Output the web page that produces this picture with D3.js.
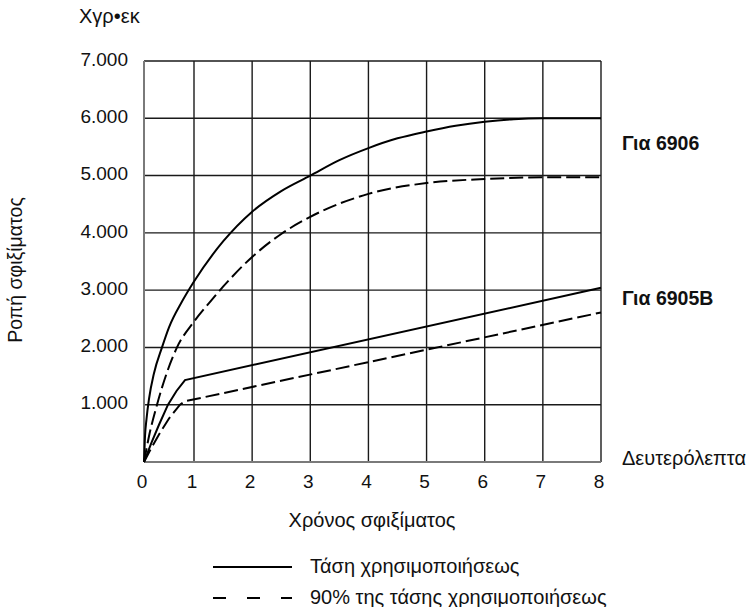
<!DOCTYPE html>
<html>
<head>
<meta charset="utf-8">
<script src="https://cdn.jsdelivr.net/npm/d3@7"></script>
<style>
  body { margin: 0; background: #fff; }
  text { font-family: "Liberation Sans", Arial, sans-serif; fill: #111; }
</style>
</head>
<body>
<svg width="752" height="607"></svg>
<script>
// tightening torque vs time, two tools, full and 90% voltage

// x axis ticks (seconds) and y axis ticks (torque)
const xTicks = [0, 1, 2, 3, 4, 5, 6, 7, 8];
const yTicks = [0, 1000, 2000, 3000, 4000, 5000, 6000, 7000];
const yTickLabels = ['', '1.000', '2.000', '3.000', '4.000', '5.000', '6.000', '7.000'];

// 6906 at full voltage
const time6906 = [0, 0.02, 0.05, 0.1, 0.2, 0.36, 0.5, 0.76, 1, 1.5, 2, 2.5, 3, 3.5, 4, 4.5, 5, 5.5, 6, 6.5, 7, 8];
const torque6906 = [0, 450, 750, 1100, 1550, 2000, 2350, 2800, 3150, 3850, 4370, 4730, 5000, 5270, 5480, 5650, 5770, 5870, 5940, 5985, 6000, 6000];
// 6906 at 90% voltage
const time6906low = [0, 0.1, 0.26, 0.66, 1, 1.28, 1.5, 2, 2.5, 3, 4, 5, 6, 7, 8];
const torque6906low = [0, 450, 1000, 2000, 2450, 2800, 3060, 3580, 3980, 4280, 4680, 4870, 4940, 4970, 4970];
// 6905B at full voltage
const time6905 = [0, 0.15, 0.3, 0.48, 0.65, 0.82, 8];
const torque6905 = [0, 340, 650, 1000, 1240, 1430, 3040];
// 6905B at 90% voltage
const time6905low = [0, 0.15, 0.3, 0.5, 0.72, 0.82, 8];
const torque6905low = [0, 250, 480, 760, 1000, 1060, 2610];

const legendLabels = ['Τάση χρησιμοποιήσεως', '90% της τάσης χρησιμοποιήσεως'];

const svg = d3.select('svg');

// the first second is drawn a little narrower than the rest
const x = d3.scaleLinear().domain([0, 1, 8]).range([144, 194, 601]);
const y = d3.scaleLinear().domain([0, 7000]).range([462, 61]);

const grid = svg.append('g');

// vertical grid lines
grid.selectAll('.vline')
  .data(xTicks.slice(1))
  .enter()
  .append('line')
  .attr('x1', d => x(d)).attr('x2', d => x(d))
  .attr('y1', y(0)).attr('y2', y(7000))
  .attr('stroke', '#1a1a1a')
  .attr('stroke-width', 1.4);

// horizontal grid lines
grid.selectAll('.hline')
  .data(yTicks.slice(1))
  .enter()
  .append('line')
  .attr('x1', x(0)).attr('x2', x(8))
  .attr('y1', d => y(d)).attr('y2', d => y(d))
  .attr('stroke', '#1a1a1a')
  .attr('stroke-width', 1.4);

// gray axis lines left and bottom
grid.append('line')
  .attr('x1', x(0)).attr('x2', x(8))
  .attr('y1', y(0)).attr('y2', y(0))
  .attr('stroke', '#7a7a7a').attr('stroke-width', 2);
grid.append('line')
  .attr('x1', x(0)).attr('x2', x(0))
  .attr('y1', y(0)).attr('y2', y(7000))
  .attr('stroke', '#7a7a7a').attr('stroke-width', 2);

// tick labels
svg.append('g').selectAll('text')
  .data(yTicks.slice(1))
  .enter()
  .append('text')
  .attr('x', 128)
  .attr('y', d => y(d) - 2)
  .attr('dy', '0.35em')
  .attr('text-anchor', 'end')
  .style('font-size', '19px')
  .text((d, i) => yTickLabels[i + 1]);

svg.append('g').selectAll('text')
  .data(xTicks)
  .enter()
  .append('text')
  .attr('x', d => x(d) - 2)
  .attr('y', 488)
  .attr('text-anchor', 'middle')
  .style('font-size', '19px')
  .text(d => d);

// curves
const smooth = d3.line()
  .x(d => x(d[0])).y(d => y(d[1]))
  .curve(d3.curveMonotoneX);
const straight = d3.line()
  .x(d => x(d[0])).y(d => y(d[1]));

const series = [
  { t: time6906, v: torque6906, line: smooth, dash: null },
  { t: time6906low, v: torque6906low, line: smooth, dash: '14,5' },
  { t: time6905, v: torque6905, line: straight, dash: null },
  { t: time6905low, v: torque6905low, line: straight, dash: '14,5' }
];

svg.append('g').selectAll('path')
  .data(series)
  .enter()
  .append('path')
  .attr('d', s => s.line(s.t.map((t, i) => [t, s.v[i]])))
  .attr('fill', 'none')
  .attr('stroke', '#000')
  .attr('stroke-width', 2)
  .attr('stroke-dasharray', s => s.dash);

// labels around the plot
svg.append('text').attr('x', 79).attr('y', 23)
  .style('font-size', '20px').text('Χγρ•εκ');
svg.append('text').attr('transform', 'translate(22,270) rotate(-90)')
  .attr('text-anchor', 'middle')
  .style('font-size', '19.5px').text('Ροπή σφιξίματος');
svg.append('text').attr('x', 372).attr('y', 527)
  .attr('text-anchor', 'middle')
  .style('font-size', '20px').text('Χρόνος σφιξίματος');
svg.append('text').attr('x', 622).attr('y', 465)
  .style('font-size', '20px').text('Δευτερόλεπτα');
svg.append('text').attr('x', 622).attr('y', 150)
  .style('font-size', '19.5px').style('font-weight', 'bold').text('Για 6906');
svg.append('text').attr('x', 622).attr('y', 305)
  .style('font-size', '19.5px').style('font-weight', 'bold').text('Για 6905B');

// legend
const legend = svg.append('g').selectAll('g')
  .data(legendLabels)
  .enter()
  .append('g')
  .attr('transform', (d, i) => `translate(0,${567 + i * 31})`);
legend.append('line')
  .attr('x1', 213).attr('x2', 292)
  .attr('stroke', '#000').attr('stroke-width', 2)
  .attr('stroke-dasharray', (d, i) => i ? '13,21' : null);
legend.append('text')
  .attr('x', 310).attr('dy', '0.3em')
  .style('font-size', '20px')
  .text(d => d);
</script>
</body>
</html>
